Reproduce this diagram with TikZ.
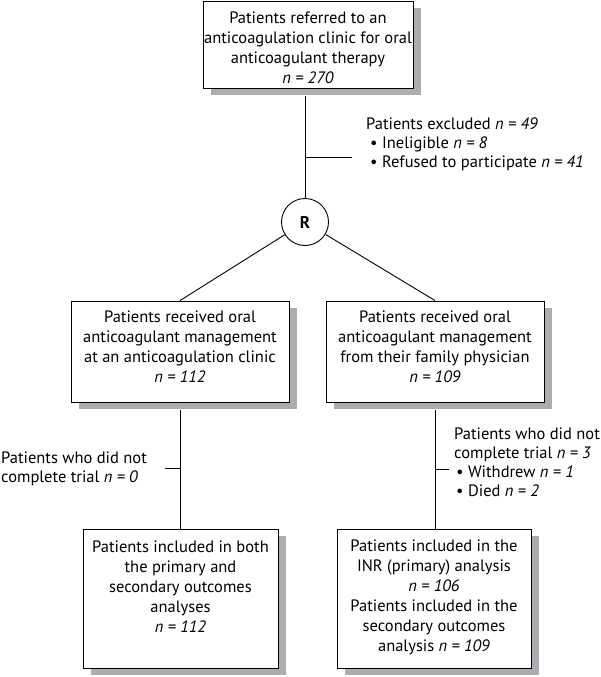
\documentclass[tikz,border=0pt]{standalone}
\usepackage{fontspec}
\setmainfont{PT Sans}
\definecolor{shadowc}{RGB}{172,172,177}
\begin{document}
\begin{tikzpicture}[x=1pt,y=-1pt,
  every node/.style={font=\fontsize{16.5}{20}\selectfont},
  box/.style={draw=black, line width=0.9pt, fill=white, inner sep=0pt},
  boxtxt/.style={align=center, inner sep=0pt},
  side/.style={align=left, inner sep=0pt, font=\fontsize{16.5}{19}\selectfont},
  shade/.style={fill=shadowc},
  conn/.style={line width=0.9pt}]
\useasboundingbox (0,0) rectangle (600,677);

% drop shadows (offset 8 right, 7 down)
\fill[shade] (211,8) rectangle (421,95);
\fill[shade] (79,308) rectangle (297,409);
\fill[shade] (334,308) rectangle (552,409);
\fill[shade] (91,536) rectangle (286,675);
\fill[shade] (345,536) rectangle (539,675);

% boxes
\node[box, minimum width=210pt, minimum height=87pt] (top) at (308,44.5) {};
\node[box, minimum width=218pt, minimum height=101pt] (midL) at (180,351.5) {};
\node[box, minimum width=218pt, minimum height=101pt] (midR) at (435,351.5) {};
\node[box, minimum width=195pt, minimum height=139pt] (botL) at (180.5,598.5) {};
\node[box, minimum width=194pt, minimum height=139pt] (botR) at (434,598.5) {};

% box texts
\node[boxtxt] (topT) at (308,47.5)
  {Patients referred to an\\anticoagulation clinic for oral\\anticoagulant therapy\\\textit{n = 270}};
\node[boxtxt] (midLT) at (180,346.5)
  {Patients received oral\\anticoagulant management\\at an anticoagulation clinic\\\textit{n = 112}};
\node[boxtxt] (midRT) at (435,346.5)
  {Patients received oral\\anticoagulant management\\from their family physician\\\textit{n = 109}};
\node[boxtxt] (botLT) at (180.5,587)
  {Patients included in both\\the primary and\\secondary outcomes\\analyses\\\textit{n = 112}};
\node[boxtxt] (botRT) at (434,597)
  {Patients included in the\\INR (primary) analysis\\\textit{n = 106}\\Patients included in the\\secondary outcomes\\analysis \textit{n = 109}};

\node[circle, draw, line width=0.9pt, fill=white, minimum size=47pt, inner sep=0pt,
  font=\fontsize{17}{20}\selectfont\bfseries] (R) at (305,222) {R};

% side texts
\node[side, anchor=west] (excl) at (366,144)
  {Patients excluded \textit{n = 49}\\\hspace{4pt}• Ineligible \textit{n = 8}\\\hspace{4pt}• Refused to participate \textit{n = 41}};
\node[side, anchor=west] (ncLtxt) at (1,469)
  {Patients who did not\\complete trial \textit{n = 0}};
\node[side, anchor=west] (ncRtxt) at (454,462)
  {Patients who did not\\complete trial \textit{n = 3}\\\hspace{2pt}• Withdrew \textit{n = 1}\\\hspace{2pt}• Died \textit{n = 2}};

\coordinate (topB) at (305,96);
\coordinate (midLB) at (180,410);
\coordinate (midRB) at (435,410);
\coordinate (exA) at (305,157);
\coordinate (exB) at (352,157);
\coordinate (ncLa) at (180,468);
\coordinate (ncLb) at (165,468);
\coordinate (ncRa) at (435,469);
\coordinate (ncRb) at (449,469);

% connectors
\draw[conn] (topB) -- (R.north);
\draw[conn] (exA) -- (exB);
\draw[conn] (R) -- (midL.north);
\draw[conn] (R) -- (midR.north);
\draw[conn] (midLB) -- (midLB |- botL.north);
\draw[conn] (midRB) -- (midRB |- botR.north);
\draw[conn] (ncLa) -- (ncLb);
\draw[conn] (ncRa) -- (ncRb);
\end{tikzpicture}
\end{document}
